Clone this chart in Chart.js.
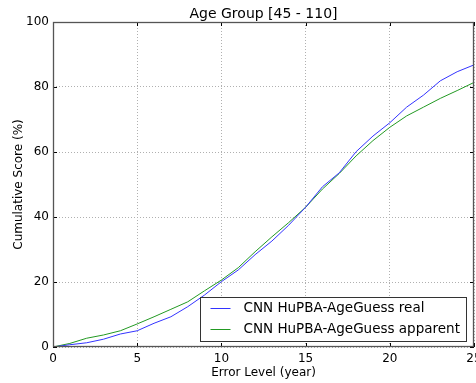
<!DOCTYPE html>
<html>
<head>
<meta charset="utf-8">
<script src="https://cdn.jsdelivr.net/npm/chart.js@4"></script>
<style>
  html, body { margin: 0; padding: 0; background: #fff; }
  #wrap { width: 476px; height: 383px; }
</style>
</head>
<body>
<div id="wrap"><canvas id="ageChart" width="476" height="383"></canvas></div>
<script>
const chartTitle = "Age Group [45 - 110]";
const errorLevels = [0, 1, 2, 3, 4, 5, 6, 7, 8, 9, 10, 11, 12, 13, 14, 15, 16, 17, 18, 19, 20, 21, 22, 23, 24, 25];
const realScores = [0, 0.7, 1.3, 2.4, 4.0, 5.0, 7.3, 9.3, 12.4, 16.0, 20.1, 23.7, 28.4, 32.6, 37.5, 43.0, 49.3, 53.6, 60.1, 64.9, 69.0, 73.8, 77.5, 81.9, 84.7, 86.8];
const apparentScores = [0, 1.1, 2.7, 3.7, 5.0, 7.1, 9.3, 11.6, 13.9, 17.3, 20.6, 24.4, 29.3, 33.9, 38.3, 43.0, 48.6, 53.4, 58.8, 63.5, 67.6, 71.1, 73.8, 76.5, 78.9, 81.4];
const xTicks = [0, 5, 10, 15, 20, 25];
const yTicks = [0, 20, 40, 60, 80, 100];

const FONT = "'DejaVu Sans', sans-serif";

function toPoints(ys) {
  return errorLevels.map((x, i) => ({ x: x, y: ys[i] }));
}

// frame, inward ticks, title and the boxed legend in the lower right
const mplDecor = {
  id: "mplDecor",
  afterDatasetsDraw(chart) {
    const ctx = chart.ctx;
    const a = chart.chartArea;
    const xs = chart.scales.x;
    const ys = chart.scales.y;
    ctx.save();
    ctx.strokeStyle = "#000";
    ctx.lineWidth = 1;
    ctx.beginPath();
    xTicks.forEach((v) => {
      const px = Math.round(xs.getPixelForValue(v)) + 0.5;
      ctx.moveTo(px, a.bottom); ctx.lineTo(px, a.bottom - 4);
      ctx.moveTo(px, a.top); ctx.lineTo(px, a.top + 4);
    });
    yTicks.forEach((v) => {
      const py = Math.round(ys.getPixelForValue(v)) + 0.5;
      ctx.moveTo(a.left, py); ctx.lineTo(a.left + 4, py);
      ctx.moveTo(a.right, py); ctx.lineTo(a.right - 4, py);
    });
    ctx.stroke();
    ctx.strokeStyle = "#555";
    ctx.lineWidth = 1.3;
    ctx.strokeRect(Math.round(a.left) + 0.5, Math.round(a.top) + 0.5,
      Math.round(a.right - a.left) - 1, Math.round(a.bottom - a.top) - 1);

    // title
    ctx.fillStyle = "#000";
    ctx.font = "14px " + FONT;
    ctx.textAlign = "center";
    ctx.textBaseline = "alphabetic";
    ctx.fillText(chartTitle, (a.left + a.right) / 2, 18);

    // legend
    const bx = 200.5, by = 297.5, bw = 266, bh = 44;
    ctx.fillStyle = "#fff";
    ctx.fillRect(bx, by, bw, bh);
    ctx.strokeStyle = "#333";
    ctx.lineWidth = 1;
    ctx.strokeRect(bx, by, bw, bh);
    ctx.font = "13.5px " + FONT;
    ctx.textAlign = "left";
    ctx.textBaseline = "middle";
    chart.data.datasets.forEach((ds, i) => {
      const ly = by + 11 + i * 21;
      ctx.strokeStyle = ds.borderColor;
      ctx.lineWidth = 1;
      ctx.beginPath();
      ctx.moveTo(bx + 10, ly); ctx.lineTo(bx + 30, ly);
      ctx.stroke();
      ctx.fillStyle = "#000";
      ctx.fillText(ds.label, bx + 43, ly);
    });
    ctx.restore();
  }
};

new Chart(document.getElementById("ageChart").getContext("2d"), {
  type: "line",
  data: {
    datasets: [
      {
        label: "CNN HuPBA-AgeGuess real",
        data: toPoints(realScores),
        borderColor: "#3333ff",
        borderWidth: 1,
        pointRadius: 0,
        tension: 0,
        fill: false,
      },
      {
        label: "CNN HuPBA-AgeGuess apparent",
        data: toPoints(apparentScores),
        borderColor: "#229922",
        borderWidth: 1,
        pointRadius: 0,
        tension: 0,
        fill: false,
      },
    ],
  },
  options: {
    responsive: false,
    animation: false,
    layout: { padding: { top: 22, right: 2, left: 0, bottom: 0 } },
    plugins: {
      legend: { display: false },
      title: { display: false },
      tooltip: { enabled: false },
    },
    scales: {
      x: {
        type: "linear",
        min: 0,
        max: 25,
        afterBuildTicks: (s) => { s.ticks = xTicks.map((v) => ({ value: v })); },
        afterFit: (s) => { s.height = 36; s.paddingLeft = 0; s.paddingRight = 0; },
        grid: { color: "#b0b0b0", drawTicks: false },
        border: { display: false, dash: [1, 2] },
        ticks: { color: "#000", font: { family: FONT, size: 12 }, padding: 5, maxRotation: 0 },
        title: { display: true, text: "Error Level (year)", color: "#000", font: { family: FONT, size: 12 }, padding: { top: 0, bottom: 3 } },
      },
      y: {
        min: 0,
        max: 100,
        afterBuildTicks: (s) => { s.ticks = yTicks.map((v) => ({ value: v })); },
        afterFit: (s) => { s.width = 53; s.paddingTop = 0; s.paddingBottom = 0; },
        grid: { color: "#b0b0b0", drawTicks: false },
        border: { display: false, dash: [1, 2] },
        ticks: { color: "#000", font: { family: FONT, size: 12 }, padding: 4 },
        title: { display: true, text: "Cumulative Score (%)", color: "#000", font: { family: FONT, size: 12 }, padding: { top: 12, bottom: 0 } },
      },
    },
  },
  plugins: [mplDecor],
});
</script>
</body>
</html>
